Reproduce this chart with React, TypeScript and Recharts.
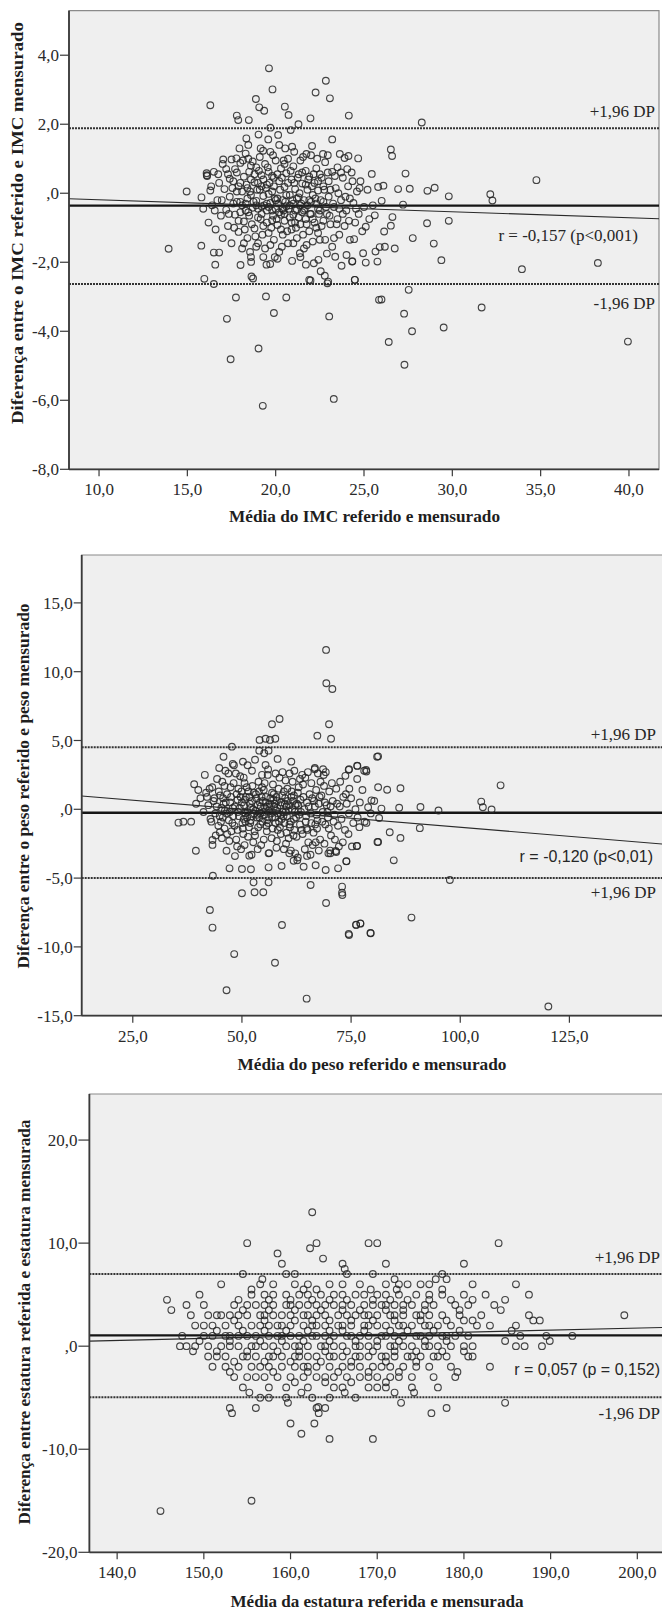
import React from 'react'
import {
  ScatterChart, Scatter, XAxis, YAxis, CartesianGrid, ReferenceLine, ReferenceArea,
} from 'recharts'

type Pt = [number, number]

// ---------- IMC (top panel) ----------
const imcXTicks = [10, 15, 20, 25, 30, 35, 40]
const imcYTicks = [-8, -6, -4, -2, 0, 2, 4]
const imcLimits = [1.88, -0.36, -2.63] // +1,96 DP, mean, -1,96 DP
const imcTrend: Pt[] = [[8.3, -0.16], [41.7, -0.74]]

const imcOutliers: Pt[] = [
  [19.62, 3.62], [19.82, 3.01], [22.84, 3.26], [22.26, 2.92], [23.07, 2.75], [16.3, 2.55], [18.88, 2.73], [19.07, 2.49],
  [19.35, 2.39], [20.52, 2.51], [20.73, 2.27], [21.97, 2.17], [24.14, 2.25], [17.8, 2.25], [17.88, 2.12], [18.48, 2.12],
  [21.29, 2.0], [19.7, 1.9], [20.85, 1.83], [19.03, 1.7], [20.14, 1.69], [18.34, 1.59], [23.2, 1.56], [19.58, 1.56],
  [18.45, 1.4], [20.2, 1.4], [20.93, 1.35], [22.06, 1.37], [20.54, 1.3], [19.29, 1.23], [21.74, 1.14], [22.68, 1.14],
  [17.03, 0.98], [17.78, 1.01], [23.63, 1.14], [24.12, 1.08], [24.67, 1.01], [25.44, 0.56], [16.09, 0.58], [16.12, 0.5],
  [14.96, 0.05], [13.94, -1.61], [15.79, -1.52], [16.5, -1.72], [16.8, -1.72], [16.58, -2.07], [15.96, -2.48], [16.5, -2.63],
  [18.01, -2.08], [18.61, -1.99], [19.48, -2.07], [19.69, -2.05], [19.95, -1.85], [18.63, -2.41], [18.72, -2.47], [17.75, -3.02],
  [19.45, -2.99], [20.6, -3.02], [19.9, -3.47], [17.24, -3.64], [19.03, -4.5], [17.45, -4.81], [19.27, -6.16], [23.29, -5.96],
  [23.03, -3.57], [20.93, -1.96], [21.71, -2.07], [21.9, -2.51], [21.97, -2.53], [22.42, -1.93], [22.55, -2.26], [22.78, -2.39],
  [22.97, -2.56], [22.93, -2.61], [24.48, -2.51], [23.73, -2.1], [24.33, -1.98], [25.1, -2.01], [24.95, -1.74], [25.65, -1.69],
  [23.37, -1.84], [24.01, -1.79], [25.85, -3.09], [22.16, -2.03], [21.37, -1.74],
  [28.27, 2.05], [26.52, 1.27], [26.59, 1.08], [27.35, 0.57], [34.76, 0.38], [26.1, 0.22], [26.93, 0.12], [27.59, 0.13],
  [28.59, 0.07], [29.0, 0.16], [29.8, -0.09], [32.15, -0.03], [32.27, -0.21], [27.21, -0.33], [25.61, -0.64], [26.61, -0.69],
  [28.57, -0.87], [29.8, -0.8], [26.52, -0.94], [25.1, -0.97], [26.14, -1.11], [27.76, -1.3], [28.95, -1.46], [24.44, -1.33],
  [26.74, -1.6], [25.89, -1.56], [26.18, -1.55], [29.38, -1.94], [33.94, -2.2], [38.24, -2.02], [25.76, -1.98], [24.34, -1.97],
  [24.48, -2.51], [27.53, -2.8], [25.99, -3.08], [31.66, -3.31], [27.27, -3.49], [29.51, -3.89], [27.72, -4.0], [26.4, -4.31],
  [39.94, -4.3], [27.29, -4.97],
]

const imcCluster: Pt[] = [
  [15.8, -0.12], [15.9, -0.45], [16.1, 0.52], [16.2, -0.85], [16.3, 0.08], [16.4, -0.35], [16.5, 0.62], [16.6, -1.05], [16.7, -0.2], [16.8, 0.3],
  [16.9, -0.65], [17.0, 0.85], [17.0, -1.3], [17.1, 0.12], [17.2, -0.48], [17.3, 0.55], [17.3, -0.95], [17.4, -0.1], [17.5, 0.98], [17.5, -1.45],
  [17.6, 0.35], [17.7, -0.62], [17.7, 0.7], [17.8, -0.25], [17.9, -1.12], [17.9, 0.2], [18.0, 0.88], [18.0, -0.55], [18.1, -1.6], [18.1, 0.05],
  [18.2, 0.48], [18.2, -0.82], [18.3, -0.3], [18.3, 1.15], [18.4, 0.15], [18.4, -1.3], [18.5, -0.65], [18.5, 0.62], [18.6, -0.05], [18.6, -1.85],
  [18.7, 0.92], [18.7, -0.42], [18.8, -1.02], [18.8, 0.32], [18.9, -0.22], [18.9, 0.75], [19.0, -0.7], [19.0, -1.45], [19.1, 0.1], [19.1, 1.05],
  [19.2, -0.38], [19.2, 0.52], [19.3, -0.95], [19.3, -0.08], [19.4, 0.85], [19.4, -1.6], [19.5, -0.5], [19.5, 0.25], [19.6, -1.15], [19.6, 0.62],
  [19.7, -0.28], [19.7, 1.2], [19.8, -0.78], [19.8, 0.05], [19.9, -1.35], [19.9, 0.45], [20.0, -0.45], [20.0, 0.95], [20.1, -0.92], [20.1, -0.15],
  [20.2, 0.35], [20.2, -1.7], [20.3, -0.62], [20.3, 0.72], [20.4, -0.2], [20.4, -1.2], [20.5, 0.18], [20.5, -0.8], [20.6, 0.58], [20.6, -0.38],
  [20.7, -1.45], [20.7, 1.0], [20.8, -0.05], [20.8, -0.7], [20.9, 0.4], [20.9, -1.05], [21.0, -0.3], [21.0, 0.78], [21.1, -0.85], [21.1, 0.12],
  [21.2, -1.3], [21.2, -0.48], [21.3, 0.55], [21.3, -0.12], [21.4, -0.9], [21.4, 0.95], [21.5, -0.55], [21.5, 0.28], [21.6, -1.6], [21.6, -0.2],
  [21.7, 0.65], [21.7, -0.75], [21.8, -0.35], [21.8, 0.1], [21.9, -1.1], [21.9, 0.48], [22.0, -0.6], [22.0, 1.1], [22.1, -0.05], [22.1, -1.4],
  [22.2, 0.3], [22.2, -0.85], [22.3, -0.3], [22.3, 0.72], [22.4, -1.15], [22.4, 0.08], [22.5, -0.5], [22.5, 0.55], [22.6, -0.95], [22.7, 0.2],
  [22.7, -0.25], [22.8, 0.9], [22.8, -1.35], [22.9, -0.6], [23.0, 0.35], [23.0, -0.1], [23.1, -0.9], [23.2, 0.62], [23.2, -1.55], [23.3, -0.4],
  [23.4, 0.15], [23.5, 0.75], [23.5, -0.75], [23.6, -1.2], [23.7, -0.2], [23.8, 0.45], [23.9, -0.95], [23.9, 1.02], [24.0, -0.5], [24.1, 0.2],
  [24.2, -1.35], [24.3, 0.6], [24.4, -0.28], [24.5, -0.85], [24.6, 0.05], [24.7, -0.6], [24.8, 0.35], [24.9, -1.1], [25.0, -0.4], [25.2, 0.1],
  [25.3, -0.75], [25.5, -0.35], [25.8, 0.18], [26.0, -0.22], [17.4, 0.42], [18.6, 0.4], [19.0, 0.3], [19.6, -0.02], [20.2, -0.55], [20.6, -0.05],
  [21.0, -0.62], [21.4, -0.35], [19.2, -0.6], [18.9, -0.35], [19.5, -0.3], [20.0, -0.2], [20.4, -0.45], [20.8, -0.35], [21.2, -0.15], [21.6, -0.5],
  [18.3, -0.5], [18.0, -0.25], [17.8, 0.05], [19.8, -0.5], [20.5, -0.6], [22.0, -0.25], [22.4, -0.45], [23.6, -0.45], [24.2, -0.15], [18.4, -0.15],
]

// denser core of the IMC cloud
const imcCore: Pt[] = [
  [17.6, -0.3], [17.8, 0.6], [17.9, -0.8], [18.0, 0.3], [18.1, -0.35], [18.15, 0.95], [18.25, -1.05], [18.35, 0.25], [18.45, -0.55], [18.55, 0.05],
  [18.6, 0.8], [18.65, -0.9], [18.75, -0.25], [18.8, 0.55], [18.85, -1.25], [18.95, 0.1], [19.0, -0.45], [19.05, 0.65], [19.15, -0.75], [19.2, 0.2],
  [19.25, -1.2], [19.3, 0.4], [19.35, -0.35], [19.45, 0.15], [19.5, -0.85], [19.55, 0.75], [19.6, -0.4], [19.65, 0.3], [19.75, -1.0], [19.8, 0.5],
  [19.85, -0.65], [19.9, 0.2], [19.95, -0.15], [20.05, -0.75], [20.1, 0.55], [20.15, -0.3], [20.25, 0.1], [20.3, -1.05], [20.35, 0.45], [20.45, -0.5],
  [20.5, 0.85], [20.55, -0.25], [20.65, -1.1], [20.7, 0.3], [20.75, -0.45], [20.85, 0.65], [20.9, -0.85], [20.95, -0.2], [21.05, 0.3], [21.1, -0.5],
  [21.15, -1.0], [21.25, 0.45], [21.3, -0.7], [21.35, 0.0], [21.45, -0.3], [21.5, 0.6], [21.55, -1.2], [21.65, -0.45], [21.7, 0.25], [21.75, -0.9],
  [21.85, 0.4], [21.9, -0.2], [21.95, -0.6], [22.05, 0.2], [22.1, -0.75], [22.15, 0.55], [22.25, -0.15], [22.3, -1.0], [22.4, 0.35], [22.45, -0.6],
  [22.55, -0.2], [22.6, 0.45], [22.7, -0.8], [22.75, 0.1], [22.85, -0.4], [22.95, 0.6], [23.05, -0.65], [23.1, 0.1], [23.25, -0.3], [23.35, 0.5],
  [23.45, -0.9], [23.55, 0.0], [23.7, 0.6], [23.8, -0.6], [23.95, -0.1], [24.05, 0.7], [24.15, -0.8], [24.35, 0.35], [24.55, -0.45], [24.75, 0.15],
  [17.2, 0.7], [17.35, -0.6], [17.55, 0.15], [16.95, -0.2], [16.75, 0.55], [16.55, -0.5], [16.35, 0.2], [17.65, -1.0], [17.95, 1.3], [18.45, 1.0],
  [19.15, 1.3], [19.85, 1.1], [20.45, 0.95], [21.05, 1.2], [21.55, 1.05], [22.35, 1.0], [22.95, 1.1], [18.2, -1.45], [18.9, -1.55], [19.7, -1.5],
  [20.35, -1.55], [21.0, -1.45], [21.75, -1.5], [22.5, -1.35], [23.3, -1.3], [20.1, -1.9], [21.4, -1.85], [19.3, -1.85], [18.55, -1.7], [22.9, -1.75],
]

// ---------- Peso (middle panel) ----------
const pesoXTicks = [25, 50, 75, 100, 125]
const pesoYTicks = [-15, -10, -5, 0, 5, 10, 15]
const pesoLimits = [4.5, -0.25, -5.0]
const pesoTrend: Pt[] = [[13.3, 0.97], [148.5, -2.58]]

const pesoOutliers: Pt[] = [
  [69.27, 11.58], [69.33, 9.16], [70.71, 8.74], [69.95, 6.18], [70.41, 5.13], [67.27, 5.35], [58.62, 6.56], [56.88, 6.18],
  [54.04, 5.04], [55.41, 5.13], [56.42, 5.04], [57.64, 5.13], [47.7, 4.55], [53.97, 4.26], [55.11, 4.07], [56.1, 4.26],
  [45.78, 3.82], [58.17, 3.66], [55.41, 3.22], [61.31, 3.46], [50.23, 3.46], [48.17, 3.2], [66.66, 2.91], [68.58, 2.91],
  [68.72, 2.49], [76.45, 3.15], [78.44, 2.86], [74.54, 2.91], [80.96, 3.82], [39.06, 1.82], [35.46, -0.97], [36.6, -0.9],
  [38.37, -0.9], [39.45, -3.01], [43.26, -2.23], [43.26, -2.59], [44.95, -1.67], [46.47, -3.01], [43.35, -4.83], [47.16, -4.29],
  [50.0, -4.34], [51.68, -3.37], [52.06, -4.36], [50.0, -6.1], [52.66, -5.31], [52.89, -6.03], [54.89, -6.03], [56.1, -5.31],
  [56.1, -4.22], [59.08, -4.12], [56.26, -3.18], [42.66, -7.32], [43.26, -8.6], [48.23, -10.52], [46.47, -13.15], [57.57, -11.15],
  [59.17, -8.41], [64.82, -13.76], [65.73, -5.5], [69.27, -6.81], [72.93, -5.62], [72.93, -6.06], [73.0, -6.23], [74.54, -9.14],
  [76.15, -8.39], [77.13, -8.29], [79.5, -9.01], [72.02, -4.29], [73.92, -3.78], [69.18, -4.41], [66.88, -4.07], [64.13, -4.17],
  [62.68, -3.71], [76.29, -2.67], [81.04, -2.38], [70.25, -3.2], [71.47, -3.03], [60.85, -3.2], [61.84, -3.74], [64.91, -3.39],
  [81.19, 3.85], [76.38, 3.17], [78.51, 2.75], [74.45, 2.87], [73.69, 2.43], [81.19, 1.6], [83.26, 1.42], [86.31, 1.53],
  [109.24, 1.74], [79.66, 0.65], [78.9, 0.15], [81.95, 0.05], [86.01, 0.11], [90.89, 0.17], [95.02, -0.09], [104.81, 0.56],
  [105.18, 0.15], [107.18, -0.01], [81.42, -0.63], [78.51, -0.99], [90.74, -1.37], [83.85, -1.67], [86.31, -2.08], [81.19, -2.38],
  [76.38, -2.67], [84.77, -3.71], [73.92, -3.77], [97.62, -5.14], [88.83, -7.87], [74.45, -9.06], [76.15, -8.4], [77.13, -8.31],
  [79.43, -8.99], [120.18, -14.33],
]

const pesoCluster: Pt[] = [
  [40.5, 0.8], [41.2, -0.2], [41.8, 1.2], [42.3, 0.3], [42.8, -0.7], [43.2, 1.6], [43.5, 0.6], [43.9, -0.3], [44.3, 2.2], [44.6, -1.2],
  [45.0, 1.0], [45.3, 0.1], [45.6, -0.6], [46.0, 1.7], [46.3, 0.5], [46.6, -1.8], [46.9, 2.6], [47.2, -0.2], [47.5, 0.9], [47.8, -1.0],
  [48.1, 1.9], [48.4, 0.2], [48.7, -2.2], [49.0, 0.7], [49.3, -0.5], [49.6, 2.4], [49.9, 1.3], [50.2, -1.4], [50.5, 0.3], [50.8, -0.3],
  [51.1, 1.6], [51.4, -2.0], [51.7, 0.9], [52.0, -0.8], [52.3, 2.8], [52.6, 0.0], [52.9, -1.6], [53.2, 1.1], [53.5, -0.4], [53.8, 2.0],
  [54.1, 0.5], [54.4, -2.6], [54.7, -0.9], [55.0, 1.4], [55.3, 0.1], [55.6, -1.2], [55.9, 2.5], [56.2, -0.6], [56.5, 0.8], [56.8, -2.1],
  [57.1, 1.8], [57.4, 0.2], [57.7, -1.0], [58.0, 0.6], [58.3, -0.3], [58.6, 2.3], [58.9, -1.8], [59.2, 1.0], [59.5, -0.5], [59.8, 0.4],
  [60.1, -2.5], [60.4, 1.5], [60.7, -0.1], [61.0, -1.3], [61.3, 0.9], [61.6, 2.0], [61.9, -0.7], [62.2, 0.3], [62.5, -2.0], [62.8, 1.2],
  [63.1, -0.4], [63.4, 0.7], [63.7, -1.5], [64.0, 1.8], [64.3, 0.0], [64.6, -0.9], [64.9, 0.5], [65.2, -2.4], [65.5, 1.1], [65.8, -0.3],
  [66.1, 0.8], [66.4, -1.7], [66.7, 0.2], [67.0, 1.4], [67.3, -0.8], [67.6, 0.4], [67.9, -2.2], [68.2, 1.0], [68.5, -0.2], [68.8, 1.7],
  [69.1, -1.1], [69.4, 0.3], [69.7, -0.6], [70.0, 1.3], [70.4, -1.9], [70.8, 0.6], [71.2, -0.4], [71.6, 1.5], [72.0, -1.2], [72.4, 0.2],
  [72.8, -0.7], [73.2, 0.9], [73.6, -1.5], [74.0, 0.4], [74.5, -0.3], [75.0, 0.8], [75.5, -1.0], [76.0, 0.0], [76.5, -0.6], [77.0, 0.5],
  [49.5, 0.1], [50.0, 0.5], [50.4, -0.7], [50.9, 0.9], [51.3, -0.2], [51.8, 0.4], [52.2, -0.5], [52.7, 1.2], [53.1, -0.1], [53.6, 0.3],
  [54.0, -0.6], [54.5, 0.9], [54.9, -0.2], [55.4, 0.5], [55.8, -0.8], [56.3, 0.2], [56.7, -0.3], [57.2, 0.7], [57.6, -0.6], [58.1, 0.1],
  [58.5, -0.9], [59.0, 0.5], [59.4, -0.2], [59.9, 0.8], [60.3, -0.5], [60.8, 0.3], [61.2, -0.9], [61.7, 0.6], [62.1, -0.2], [62.6, 0.4],
  [48.0, -0.5], [47.3, 0.5], [46.5, -0.3], [45.8, 0.4], [44.9, -0.5], [49.2, 1.5], [50.6, 1.9], [52.4, 1.7], [53.9, 1.3], [55.2, 1.9],
  [56.9, 1.2], [58.4, 1.5], [60.0, 2.1], [61.4, 1.3], [63.0, 1.6], [64.5, 2.3], [65.9, 1.9], [67.4, 2.6], [50.1, -1.0], [51.6, -1.3],
  [53.0, -1.9], [54.2, -1.1], [55.7, -1.6], [57.0, -1.4], [58.7, -1.3], [60.2, -1.7], [61.8, -1.9], [63.3, -1.1], [64.8, -1.4], [66.2, -2.6],
  [67.2, -1.4], [68.9, -2.5], [70.2, -3.0], [71.3, -2.2], [69.8, -3.2], [71.6, -3.1], [48.4, -3.4], [49.8, -2.9], [52.2, -3.3], [53.6, -2.9],
  [56.1, -3.2], [57.9, -2.8], [59.6, -2.9], [61.2, -3.0], [62.8, -3.5], [64.4, -2.9], [65.7, -3.3], [66.9, -2.4], [44.0, -1.9], [43.0, -0.9],
  [42.0, 0.9], [40.0, 1.4], [39.5, 0.4], [41.5, 2.5], [44.8, 3.0], [46.2, 2.8], [47.9, 3.3], [51.3, 3.2], [53.0, 3.6], [56.0, 2.9],
  [59.3, 2.7], [62.0, 2.8], [63.8, 2.5], [66.7, 3.0], [69.2, 2.7], [72.5, 2.0], [74.6, 1.5], [73.1, -2.4], [74.4, -1.8], [75.2, -2.7],
  [76.9, -1.3], [78.1, -0.9], [79.5, -0.3], [80.3, 0.6], [77.6, 1.4], [76.4, 2.2], [78.0, 2.8],
]

// denser core of the weight cloud
const pesoCore: Pt[] = [
  [44.2, 0.2], [44.7, 1.3], [45.2, -0.9], [45.7, 0.8], [46.1, -0.1], [46.6, 1.1], [47.0, -0.8], [47.4, 1.6], [47.9, 0.1], [48.3, -1.2],
  [48.8, 1.1], [49.1, -0.2], [49.7, 0.9], [50.3, -1.8], [50.7, 0.7], [51.2, -0.6], [51.5, 1.3], [51.9, -1.0], [52.3, 0.6], [52.8, -0.3],
  [53.3, 0.8], [53.7, -1.3], [54.3, 0.2], [54.6, 1.6], [55.1, -0.4], [55.5, 0.9], [56.0, -1.0], [56.4, 0.4], [56.9, -0.6], [57.3, 1.1],
  [57.8, -0.1], [58.2, -1.5], [58.8, 0.3], [59.1, -0.7], [59.6, 1.3], [60.0, -0.2], [60.5, 0.6], [60.9, -1.1], [61.5, 0.0], [61.9, 1.0],
  [62.4, -0.6], [62.9, 0.3], [63.5, -0.2], [64.1, 0.9], [64.7, -0.5], [65.3, 0.2], [65.9, -1.0], [66.5, 0.6], [67.1, -0.4], [67.8, 0.9],
  [68.4, -0.9], [69.0, 0.5], [69.6, -0.2], [70.3, 0.2], [71.0, -0.9], [71.8, 0.4], [52.0, 0.1], [53.4, -0.6], [54.8, 0.6], [56.1, -0.1],
  [57.5, 0.4], [58.9, -0.4], [60.2, 0.2], [55.7, 0.2], [54.2, -0.3], [57.9, 0.9], [59.7, -1.0], [50.8, -0.9], [49.0, -1.5], [47.6, -1.6],
  [46.0, -1.4], [63.9, -1.8], [65.0, -1.5], [66.8, -1.1], [62.0, -1.5], [60.7, -2.1], [58.0, -2.3], [55.0, -2.2], [52.6, -2.4], [50.6, -2.6],
  [48.9, -2.7], [47.1, -2.3], [45.4, -2.1], [43.7, 0.8], [42.6, 1.5], [45.5, 2.0], [48.6, 2.6], [50.4, 2.3], [54.6, 2.5], [57.7, 2.6],
  [60.9, 2.6], [63.3, 2.2], [65.1, 2.7], [68.0, 2.0], [70.6, 1.9], [73.8, 1.1], [69.9, -1.4], [72.2, -2.7], [67.6, -3.0], [62.2, -3.2],
]

// ---------- Estatura (bottom panel) ----------
const estXTicks = [140, 150, 160, 170, 180, 190, 200]
const estYTicks = [-20, -10, 0, 10, 20]
const estLimits = [7.0, 1.04, -4.96]
const estTrend: Pt[] = [[136.8, 0.49], [204, 1.84]]

const estOutliers: Pt[] = [
  [145, -16], [155.5, -15], [162.5, 13], [155, 10], [162.25, 9.5], [163, 10], [169, 10], [170, 10], [184, 10], [158.5, 9],
  [159, 8], [163.75, 8.5], [166, 8], [166.25, 7.5], [166.5, 7], [171, 8], [180, 8], [152, 6], [169.5, 7], [177.5, 7],
  [154.5, 7], [159.5, 7], [160.5, 7], [156.75, 6.5], [176.75, 6.5], [178, 6.5], [172, 6.5], [198.5, 3], [192.5, 1], [183, -2],
  [153, -6], [153.25, -6.5], [156, -6], [163, -6], [163.25, -6.5], [164, -6], [176.25, -6.5], [178, -6], [184.75, -5.5], [172.75, -5.5],
  [160, -7.5], [161.25, -8.5], [162.75, -7.5], [164.5, -9], [169.5, -9], [159.7, -5.5], [163.2, -5.9],
]

// rows of the striped cloud: [difference, averages on that row]
const estRows: [number, number[]][] = [
  [6, [156.5, 158, 160.5, 162, 164.5, 166, 168, 171, 172.5, 173.5, 175, 176, 181, 186]],
  [5.5, [155.5, 161.5, 163, 169.25, 172.25, 177.5]],
  [5, [149.5, 155.5, 157, 158, 159.5, 161, 162, 163.5, 165, 166, 167.5, 168.5, 170, 171, 172.5, 174.5, 176, 177.5, 180, 182.5, 187.5]],
  [4.5, [145.75, 154, 157.5, 160, 162.5, 164.5, 166.5, 169.5, 171.5, 173.5, 176, 178.5, 181, 184.75]],
  [4, [148, 150, 153.5, 155, 156, 157, 158, 159.5, 160, 161, 162, 163, 164, 165, 166, 167, 168.5, 169.5, 170.5, 171, 172, 173, 174, 175.5, 176.5, 179, 180.5, 183.5]],
  [3.5, [146.25, 154.5, 157.5, 160.5, 163.5, 166, 168, 171, 173, 175.5, 179.5, 184.25]],
  [3, [148.5, 150.5, 151.5, 152, 153, 154, 155, 156.5, 157, 158, 159, 160, 161.5, 162, 163, 164, 165.5, 166.5, 167.5, 168.5, 169, 170, 171.5, 172, 173, 174.5, 175, 176, 177.5, 179.5, 182, 187.5]],
  [2.5, [153.5, 157, 160.5, 162.5, 164.5, 167, 169.5, 172, 175, 178, 180, 181, 188, 188.75]],
  [2, [149, 150, 151, 152.5, 154, 155.5, 156.5, 157.5, 158.5, 159, 160, 161.5, 162.5, 163, 164, 165.5, 166, 167, 168.5, 169, 170, 171, 172.5, 173, 174, 175.5, 176, 177, 178.5, 181.5, 183, 186]],
  [1.5, [151.5, 154.5, 157, 159.5, 162, 164.5, 166, 168.5, 171.5, 173.5, 176.5, 179.5, 185.5]],
  [1, [147.5, 150, 151, 152.5, 153, 154, 155, 156, 157.5, 158.5, 159, 160, 161, 162.5, 163, 164, 165, 166.5, 167, 168, 169, 170.5, 171, 172, 173, 174.5, 175, 176, 177.5, 178, 179, 180.5, 186.5, 189.5]],
  [0.5, [149.5, 153, 156.5, 159, 161.5, 164.5, 167.5, 170, 172.5, 175.5, 178, 184.75, 189.9]],
  [0, [147.25, 148, 149, 150.5, 152, 153, 154, 155.5, 156, 157, 158, 159.5, 160.5, 161, 162, 163.5, 164, 165, 166, 167.5, 168, 169, 170, 171.5, 172, 173, 174, 175.5, 176, 177, 178.5, 180, 181, 186, 187, 189]],
  [-0.5, [148.75, 151.5, 155, 158.5, 161, 164, 166.5, 169.5, 172, 174.5, 177.5, 180]],
  [-1, [150.5, 151.5, 152.5, 154.5, 155, 156, 157.5, 158, 159, 160.5, 161, 162, 163, 164.5, 165, 166, 167.5, 168, 169, 170.5, 171, 172, 173.5, 174, 175, 176.5, 177, 178, 180.5, 181]],
  [-1.5, [153.5, 157, 160, 163.5, 167, 171, 174.5]],
  [-2, [151, 152.5, 154, 155.5, 156.5, 157.5, 159, 160.5, 161.5, 162, 163, 164.5, 166, 167, 168, 169.5, 170.5, 171.5, 173, 174.5, 176, 178.5]],
  [-2.5, [153, 158, 162, 165.5, 169, 172.5, 179.25]],
  [-3, [153.5, 155, 156, 157, 158.5, 160, 161.5, 163, 164, 165, 166.5, 168, 169, 170, 171.5, 172.5, 174, 176.5, 179]],
  [-3.5, [160.5, 164, 167, 171]],
  [-4, [154.5, 157.5, 159.5, 162, 165, 166, 169, 170, 171, 174, 177]],
  [-4.5, [155.25, 161.25, 166.25, 172, 174.25]],
  [-5, [156.5, 157.5, 159.5, 162.5, 164.5, 167.5]],
]

const SERIF = '"Liberation Serif", "Times New Roman", serif'
const SANS = '"Liberation Sans", Arial, sans-serif'

const fmt = (v: number) => (v === 0 ? ',0' : v.toFixed(1).replace('.', ','))
const toXY = (pts: Pt[]) => pts.map(([x, y]) => ({ x, y }))

const Ring = (props: any) => (
  <circle cx={props.cx} cy={props.cy} r={3.35} fill="none" stroke="#262626" strokeOpacity={0.85} strokeWidth={1.15} />
)

interface Note { text: string; dy: number; inset: number; font?: string; size?: number }

function notesLabel(notes: Note[]) {
  return (props: any) => {
    const vb = props.viewBox || {}
    const right = (vb.x || 0) + (vb.width || 0)
    return (
      <g>
        {notes.map((n) => (
          <text
            key={n.text + n.dy}
            x={right - n.inset}
            y={(vb.y || 0) + n.dy}
            textAnchor="end"
            dominantBaseline="central"
            fontFamily={n.font ?? SERIF}
            fontSize={n.size ?? 17}
            fill="#262626"
          >
            {n.text}
          </text>
        ))}
      </g>
    )
  }
}

interface PanelProps {
  points: Pt[]
  top: number
  width: number
  height: number
  plot: { left: number; top: number; right: number; bottom: number }
  xDomain: [number, number]
  yDomain: [number, number]
  xTicks: number[]
  yTicks: number[]
  limits: number[]
  trend: Pt[]
  upperNotes: Note[]
  lowerNotes: Note[]
  yTickSize: number
}

function Panel(p: PanelProps) {
  const data = toXY(p.points)
  const xAxisH = 40
  const margin = {
    top: p.plot.top,
    right: p.width - p.plot.right,
    left: 0,
    bottom: p.height - p.plot.bottom - xAxisH,
  }
  const tickStyle = { fontFamily: SERIF, fontSize: 17, fill: '#2a2a2a' }
  return (
    <div style={{ position: 'absolute', left: 0, top: p.top }}>
      <ScatterChart width={p.width} height={p.height} margin={margin}>
        <CartesianGrid fill="#efefef" horizontal={false} vertical={false} />
        <ReferenceArea
          x1={p.xDomain[0]} x2={p.xDomain[1]} y1={p.yDomain[0]} y2={p.yDomain[1]}
          fill="none" stroke="#8a8a8a" strokeWidth={1.2}
        />
        <XAxis
          type="number" dataKey="x" domain={p.xDomain} ticks={p.xTicks} allowDataOverflow
          tickFormatter={fmt} height={xAxisH} tickSize={7} tickMargin={7}
          tick={tickStyle} axisLine={{ stroke: '#3a3a3a', strokeWidth: 1.8 }} tickLine={{ stroke: '#3a3a3a', strokeWidth: 1.2 }}
        />
        <YAxis
          type="number" dataKey="y" domain={p.yDomain} ticks={p.yTicks} allowDataOverflow
          tickFormatter={fmt} width={p.plot.left} tickSize={p.yTickSize} tickMargin={1}
          tick={tickStyle} axisLine={{ stroke: '#3a3a3a', strokeWidth: 1.8 }} tickLine={{ stroke: '#3a3a3a', strokeWidth: 1.2 }}
        />
        <ReferenceLine
          y={p.limits[0]} stroke="#333" strokeWidth={2} strokeDasharray="2 1"
          label={notesLabel(p.upperNotes)}
        />
        <ReferenceLine
          y={p.limits[2]} stroke="#333" strokeWidth={2} strokeDasharray="2 1"
          label={notesLabel(p.lowerNotes)}
        />
        <ReferenceLine y={p.limits[1]} stroke="#151515" strokeWidth={2.3} />
        <ReferenceLine
          segment={[{ x: p.trend[0][0], y: p.trend[0][1] }, { x: p.trend[1][0], y: p.trend[1][1] }]}
          stroke="#2a2a2a" strokeWidth={1.1} ifOverflow="hidden"
        />
        <Scatter data={data} shape={Ring} isAnimationActive={false} />
      </ScatterChart>
    </div>
  )
}

const yTitles = [
  { text: 'Diferença entre o IMC referido e IMC mensurado', cx: 17, cy: 223, len: 402 },
  { text: 'Diferença entre o peso referido e peso mensurado', cx: 23, cy: 786, len: 365 },
  { text: 'Diferença entre estatura referida e estatura mensurada', cx: 24, cy: 1322, len: 405 },
]
const xTitles = [
  { text: 'Média do IMC referido e mensurado', cx: 364.5, cy: 516.7, len: 271 },
  { text: 'Média do peso referido e mensurado', cx: 372, cy: 1064, len: 269 },
  { text: 'Média da estatura referida e mensurada', cx: 377, cy: 1601.7, len: 293 },
]

export default function App() {
  const estPoints: Pt[] = [
    ...estOutliers,
    ...estRows.flatMap(([d, avgs]) => avgs.map((a) => [a, d] as Pt)),
  ]
  return (
    <div style={{ position: 'absolute', left: 0, top: 0, width: 662, height: 1611, overflow: 'hidden', background: '#fff' }}>
      <Panel
        points={[...imcOutliers, ...imcCluster, ...imcCore]}
        top={0} width={662} height={540}
        plot={{ left: 69, top: 10.7, right: 659, bottom: 469.3 }}
        xDomain={[8.3, 41.7]} yDomain={[-8, 5.29]}
        xTicks={imcXTicks} yTicks={imcYTicks}
        limits={imcLimits} trend={imcTrend} yTickSize={9}
        upperNotes={[{ text: '+1,96 DP', dy: -16.6, inset: 4 }]}
        lowerNotes={[
          { text: 'r = -0,157 (p<0,001)', dy: -48.7, inset: 21 },
          { text: '-1,96 DP', dy: 20, inset: 4 },
        ]}
      />
      <Panel
        points={[...pesoOutliers, ...pesoCluster, ...pesoCore]}
        top={540} width={680} height={520}
        plot={{ left: 81.7, top: 15, right: 672, bottom: 475.7 }}
        xDomain={[13.3, 148.5]} yDomain={[-15, 18.48]}
        xTicks={pesoXTicks} yTicks={pesoYTicks}
        limits={pesoLimits} trend={pesoTrend} yTickSize={8}
        upperNotes={[{ text: '+1,96 DP', dy: -13.3, inset: 16 }]}
        lowerNotes={[
          { text: 'r = -0,120 (p<0,01)', dy: -21.7, inset: 19, font: SANS, size: 16 },
          { text: '+1,96 DP', dy: 14, inset: 16 },
        ]}
      />
      <Panel
        points={estPoints}
        top={1060} width={680} height={551}
        plot={{ left: 89.4, top: 34, right: 672, bottom: 492.3 }}
        xDomain={[136.8, 204]} yDomain={[-20, 24.47]}
        xTicks={estXTicks} yTicks={estYTicks}
        limits={estLimits} trend={estTrend} yTickSize={11}
        upperNotes={[{ text: '+1,96 DP', dy: -17, inset: 12 }]}
        lowerNotes={[
          { text: 'r = 0,057 (p = 0,152)', dy: -27.4, inset: 12, font: SANS, size: 16 },
          { text: '-1,96 DP', dy: 16.6, inset: 12 },
        ]}
      />
      <svg width={662} height={1611} style={{ position: 'absolute', left: 0, top: 0, pointerEvents: 'none' }}>
        {yTitles.map((t) => (
          <text
            key={t.text}
            transform={`translate(${t.cx},${t.cy}) rotate(-90)`}
            textAnchor="middle" dominantBaseline="central"
            fontFamily={SERIF} fontWeight="bold" fontSize={17} fill="#1e1e1e"
            textLength={t.len} lengthAdjust="spacingAndGlyphs"
          >
            {t.text}
          </text>
        ))}
        {xTitles.map((t) => (
          <text
            key={t.text}
            x={t.cx} y={t.cy}
            textAnchor="middle" dominantBaseline="central"
            fontFamily={SERIF} fontWeight="bold" fontSize={17} fill="#1e1e1e"
            textLength={t.len} lengthAdjust="spacingAndGlyphs"
          >
            {t.text}
          </text>
        ))}
      </svg>
    </div>
  )
}
